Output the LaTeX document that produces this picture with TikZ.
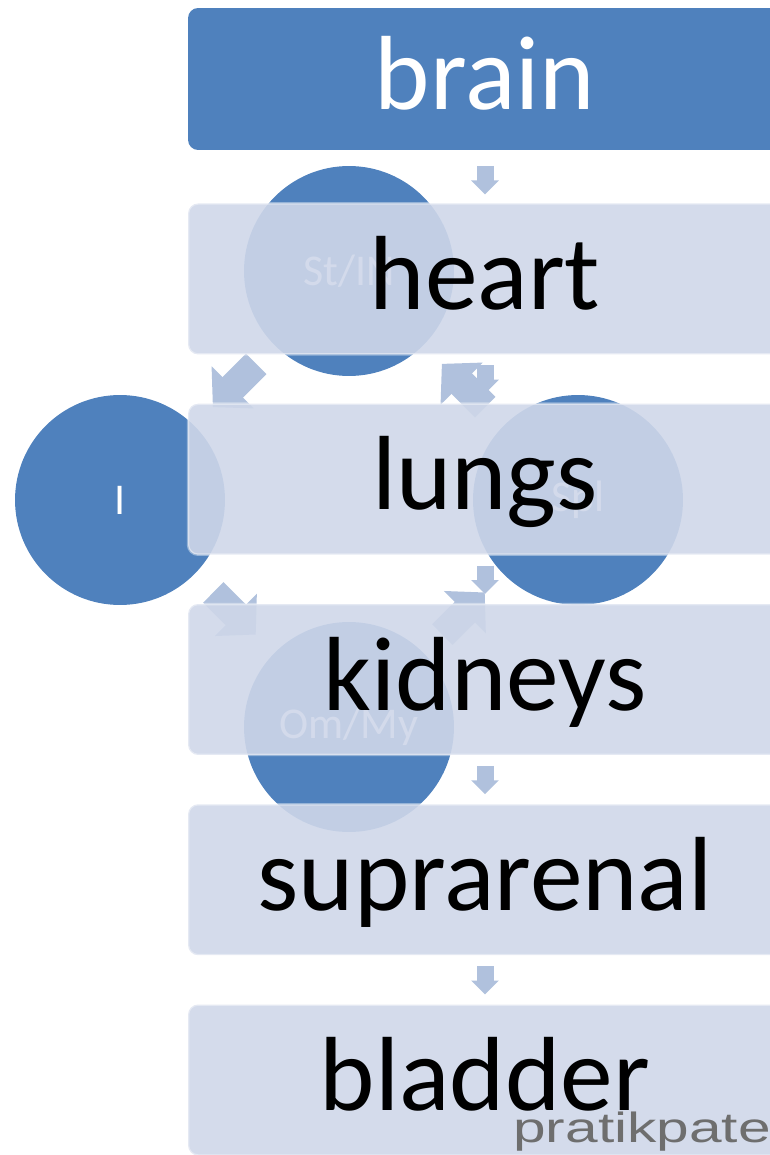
\documentclass[tikz,border=0pt]{standalone}
\usepackage{fontspec}
\setmainfont{Carlito}
\newfontfamily\wmfont{Liberation Sans}
\usetikzlibrary{arrows.meta, positioning}
\definecolor{darkblue}{HTML}{4F81BD}
\definecolor{paleblue}{HTML}{CFD7E9}
\definecolor{arrowblue}{HTML}{B0C1DD}
\definecolor{wmgray}{HTML}{6E6E6E}

\begin{document}
\begin{tikzpicture}[
    x=0.02cm, y=-0.02cm,
    node distance=0.986cm,
    organ/.style={rectangle, rounded corners=0.2cm, fill=paleblue, fill opacity=0.9, text opacity=1, draw=white, draw opacity=0.4, line width=0.05cm, outer sep=0pt, minimum width=11.88cm, minimum height=3.02cm, inner sep=0pt, text height=47pt, text depth=12pt, font=\fontsize{60}{61}\selectfont},
    topbox/.style={organ, fill=darkblue, fill opacity=1, draw=none, text=white, minimum height=2.84cm},
    cyc/.style={circle, fill=darkblue, minimum size=4.2cm, inner sep=0pt, text=white, font=\fontsize{25}{26}\selectfont},
    cycarrow/.style={draw=arrowblue, line width=0.58cm, -{Triangle[width=1.16cm, length=0.56cm]}, shorten <=0.52cm, shorten >=0.52cm},
    flowarrow/.style={draw=arrowblue, line width=0.34cm, -{Triangle[width=0.54cm, length=0.28cm]}, shorten <=0.22cm, shorten >=0.2cm}
]
    \clip (0,0) rectangle (770,1155);

    % cycle behind the list
    \node[cyc] (cSt) at (349,271) {St/IN};
    \node[cyc] (cSp) at (578,500) {Spl};
    \node[cyc] (cOm) at (349,727) {Om/My};
    \node[cyc] (cI) at (120,500) {I};

    \draw[cycarrow] (cSp) -- (cSt);
    \draw[cycarrow] (cSt) -- (cI);
    \draw[cycarrow] (cI) -- (cOm);
    \draw[cycarrow] (cOm) -- (cSp);

    % organ list
    \node[topbox] (brain) at (485,79) {brain};
    \node[organ] (heart) [below=1.07cm of brain] {heart};
    \node[organ] (lungs) [below=of heart] {lungs};
    \node[organ] (kidneys) [below=of lungs] {kidneys};
    \node[organ] (supra) [below=of kidneys] {suprarenal};
    \node[organ] (bladder) [below=of supra] {bladder};

    \draw[flowarrow, shorten <=0.32cm, shorten >=0.18cm] (brain) -- (heart);
    \draw[flowarrow] (heart) -- (lungs);
    \draw[flowarrow] (lungs) -- (kidneys);
    \draw[flowarrow] (kidneys) -- (supra);
    \draw[flowarrow] (supra) -- (bladder);

    \node[anchor=base west, inner sep=0pt, text=wmgray, font=\wmfont\fontsize{24}{24}\selectfont] (credit) at (513,1142) {\scalebox{1.39}[1]{pratikpate}};
\end{tikzpicture}
\end{document}
